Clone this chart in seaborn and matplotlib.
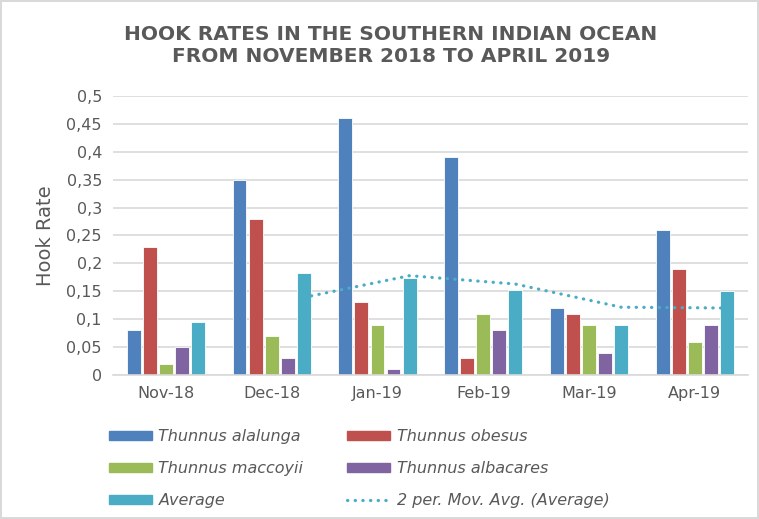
import pandas as pd
import numpy as np
import matplotlib.pyplot as plt
import seaborn as sns
from matplotlib.lines import Line2D
from matplotlib.ticker import FuncFormatter

months = ["Nov-18", "Dec-18", "Jan-19", "Feb-19", "Mar-19", "Apr-19"]
series_names = ["Thunnus alalunga", "Thunnus obesus", "Thunnus maccoyii",
                "Thunnus albacares", "Average"]
alalunga = [0.08, 0.35, 0.46, 0.39, 0.12, 0.26]
obesus = [0.23, 0.28, 0.13, 0.03, 0.11, 0.19]
maccoyii = [0.02, 0.07, 0.09, 0.11, 0.09, 0.06]
albacares = [0.05, 0.03, 0.01, 0.08, 0.04, 0.09]
average = [0.095, 0.183, 0.173, 0.153, 0.09, 0.15]
yticks = [0, 0.05, 0.1, 0.15, 0.2, 0.25, 0.3, 0.35, 0.4, 0.45, 0.5]

colors = ["#4F81BD", "#C0504D", "#9BBB59", "#8064A2", "#4BACC6"]
text_gray = "#595959"
dots = (0, (0.1, 2.3))

sns.set_theme(style="white")
plt.rcParams["font.family"] = ["DejaVu Sans"]

rows = []
for name, vals in zip(series_names, [alalunga, obesus, maccoyii, albacares, average]):
    for m, v in zip(months, vals):
        rows.append({"month": m, "series": name, "rate": v})
df = pd.DataFrame(rows)

fig = plt.figure(figsize=(7.59, 5.19), dpi=100)
fig.patch.set_edgecolor("#D9D9D9")
fig.patch.set_linewidth(1.5)
ax = fig.add_axes([0.149, 0.2775, 0.836, 0.5375])

sns.barplot(data=df, x="month", y="rate", hue="series", order=months,
            hue_order=series_names, palette=colors, width=0.76, gap=0.14,
            edgecolor="white", linewidth=0.6, saturation=1, ax=ax, legend=False)

# 2-period moving average of the Average series, placed on the Average bars
mov_avg = pd.Series(average).rolling(2).mean()
avg_x = [p.get_x() + p.get_width() / 2 for p in ax.containers[4].patches]
ma_df = pd.DataFrame({"x": avg_x, "ma": mov_avg}).dropna()
sns.lineplot(data=ma_df, x="x", y="ma", color="#4BACC6", linestyle=dots,
             linewidth=2.3, dash_capstyle="round", ax=ax)

ax.set_ylim(0, 0.5)
ax.set_xlim(-0.5, len(months) - 0.5)
ax.set_yticks(yticks)
ax.yaxis.set_major_formatter(FuncFormatter(lambda v, p: f"{v:g}".replace(".", ",")))
ax.grid(axis="y", color="#D9D9D9", linewidth=1.2)
ax.set_axisbelow(True)
for s in ["top", "right", "left"]:
    ax.spines[s].set_visible(False)
ax.spines["bottom"].set_color("#D9D9D9")
ax.spines["bottom"].set_linewidth(1.2)
ax.tick_params(axis="both", length=0, labelsize=11.5, labelcolor=text_gray, pad=8)
ax.set_xlabel("")
ax.set_ylabel("Hook Rate", fontsize=14, color=text_gray, labelpad=8)

fig.suptitle("HOOK RATES IN THE SOUTHERN INDIAN OCEAN\nFROM NOVEMBER 2018 TO APRIL 2019",
             fontsize=14.5, fontweight="bold", color=text_gray, y=0.952,
             x=0.515, linespacing=1.2)

handles = [plt.Rectangle((0, 0), 1, 1, color=c) for c in colors]
handles.append(Line2D([0], [0], color="#4BACC6", linestyle=dots,
                      linewidth=2.3, dash_capstyle="round"))
labels = series_names + ["2 per. Mov. Avg. (Average)"]
order = [0, 2, 4, 1, 3, 5]
leg = fig.legend([handles[i] for i in order], [labels[i] for i in order], ncol=2,
                 loc="upper left", bbox_to_anchor=(0.135, 0.185),
                 frameon=False, prop={"style": "italic", "size": 11.5},
                 handlelength=2.7, handleheight=0.5, handletextpad=0.4,
                 labelspacing=1.05, columnspacing=2.75, borderaxespad=0)
for t in leg.get_texts():
    t.set_color(text_gray)

fig.savefig("out.png", dpi=100)
